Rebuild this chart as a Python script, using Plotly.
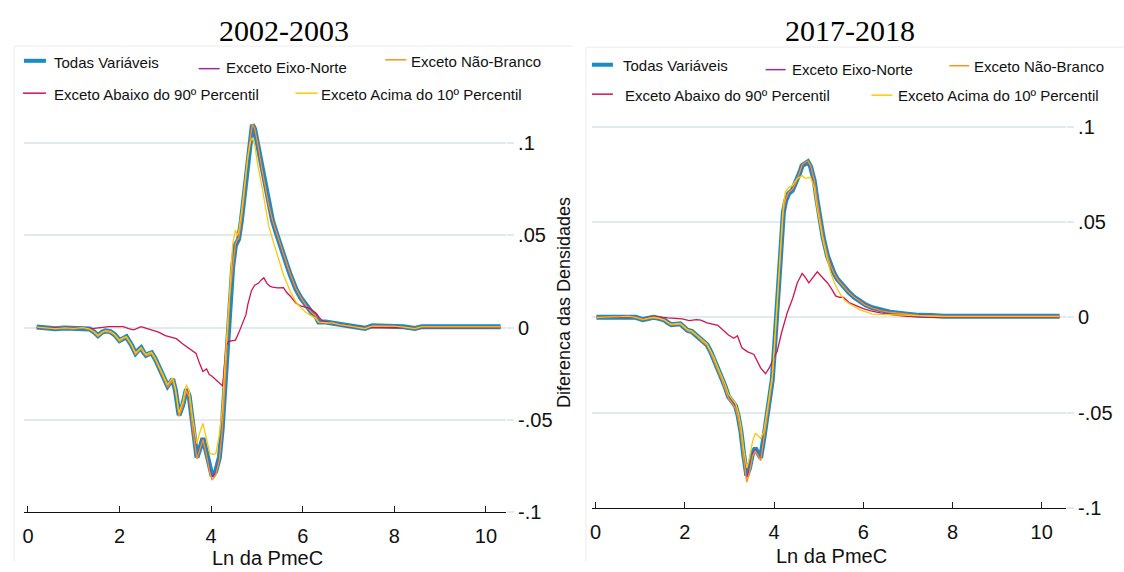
import plotly.graph_objects as go

# ---------------- data: 2002-2003 ----------------
LX = [0.19, 0.4, 0.6, 0.8, 1.0, 1.2, 1.35, 1.45, 1.53, 1.62,
      1.69, 1.8, 1.9, 2.0, 2.07, 2.15, 2.25, 2.35, 2.42, 2.47,
      2.53, 2.58, 2.64, 2.7, 2.78, 2.85, 2.95, 3.05, 3.1, 3.16,
      3.22, 3.3, 3.38, 3.46, 3.52, 3.6, 3.69, 3.75, 3.82, 3.9,
      3.97, 4.02, 4.1, 4.18, 4.24, 4.29, 4.35, 4.41, 4.47, 4.53,
      4.57, 4.6, 4.66, 4.72, 4.8, 4.86, 4.9, 4.95, 5.02, 5.11,
      5.18, 5.26, 5.34, 5.42, 5.5, 5.58, 5.66, 5.73, 5.85, 5.96,
      6.08, 6.2, 6.28, 6.35, 6.5, 6.66, 6.8, 6.9, 7.1, 7.36,
      7.52, 7.7, 7.99, 8.2, 8.45, 8.6, 9.0, 9.5, 10.0, 10.32]

L_todas = [0.0003, 0.0000, -0.0006, -0.0002, -0.0004, 0.0000, -0.0008, -0.0025, -0.0044, -0.0025,
           -0.0018, -0.0022, -0.0040, -0.0070, -0.0058, -0.0050, -0.0090, -0.0140, -0.0120, -0.0110,
           -0.0135, -0.0150, -0.0142, -0.0137, -0.0170, -0.0210, -0.0260, -0.0317, -0.0300, -0.0280,
           -0.0340, -0.0475, -0.0420, -0.0335, -0.0370, -0.0550, -0.0704, -0.0660, -0.0600, -0.0680,
           -0.0770, -0.0805, -0.0780, -0.0704, -0.0550, -0.0350, -0.0080, 0.0180, 0.0330, 0.0445,
           0.0470, 0.0480, 0.0580, 0.0712, 0.0925, 0.1050, 0.1100, 0.1077, 0.0990, 0.0854,
           0.0760, 0.0658, 0.0580, 0.0516, 0.0450, 0.0390, 0.0335, 0.0285, 0.0210, 0.0160,
           0.0115, 0.0080, 0.0065, 0.0030, 0.0030, 0.0027, 0.0018, 0.0014, 0.0005, -0.0004,
           0.0010, 0.0009, 0.0009, 0.0004, -0.0005, 0.0005, 0.0005, 0.0005, 0.0005, 0.0005]

L_eixo = [0.0002, 0.0000, -0.0005, -0.0002, -0.0004, 0.0001, -0.0008, -0.0026, -0.0045, -0.0026,
          -0.0019, -0.0023, -0.0041, -0.0072, -0.0059, -0.0051, -0.0091, -0.0142, -0.0121, -0.0111,
          -0.0137, -0.0152, -0.0143, -0.0138, -0.0172, -0.0212, -0.0262, -0.0320, -0.0302, -0.0282,
          -0.0343, -0.0478, -0.0423, -0.0337, -0.0373, -0.0553, -0.0708, -0.0662, -0.0603, -0.0684,
          -0.0775, -0.0810, -0.0786, -0.0710, -0.0556, -0.0352, -0.0082, 0.0178, 0.0328, 0.0443,
          0.0468, 0.0478, 0.0578, 0.0710, 0.0923, 0.1048, 0.1102, 0.1079, 0.0992, 0.0856,
          0.0762, 0.0660, 0.0582, 0.0518, 0.0452, 0.0392, 0.0337, 0.0287, 0.0212, 0.0161,
          0.0116, 0.0081, 0.0066, 0.0031, 0.0030, 0.0027, 0.0018, 0.0014, 0.0005, -0.0004,
          0.0009, 0.0009, 0.0008, 0.0004, -0.0005, 0.0004, 0.0004, 0.0004, 0.0004, 0.0004]

L_naobranco = [0.0001, -0.0002, -0.0007, -0.0004, -0.0006, -0.0002, -0.0010, -0.0028, -0.0047, -0.0028,
               -0.0021, -0.0025, -0.0043, -0.0074, -0.0061, -0.0053, -0.0093, -0.0145, -0.0124, -0.0114,
               -0.0139, -0.0154, -0.0146, -0.0141, -0.0174, -0.0214, -0.0265, -0.0323, -0.0305, -0.0285,
               -0.0346, -0.0482, -0.0426, -0.0340, -0.0376, -0.0557, -0.0712, -0.0666, -0.0607, -0.0690,
               -0.0785, -0.0827, -0.0800, -0.0715, -0.0560, -0.0355, -0.0085, 0.0175, 0.0328, 0.0450,
               0.0475, 0.0482, 0.0582, 0.0714, 0.0928, 0.1053, 0.1104, 0.1080, 0.0993, 0.0857,
               0.0763, 0.0661, 0.0583, 0.0519, 0.0453, 0.0393, 0.0338, 0.0288, 0.0212, 0.0162,
               0.0116, 0.0080, 0.0064, 0.0028, 0.0028, 0.0025, 0.0016, 0.0012, 0.0003, -0.0006,
               0.0008, 0.0007, 0.0007, 0.0002, -0.0007, 0.0003, 0.0003, 0.0003, 0.0003, 0.0003]

L_acima10 = [0.0002, 0.0000, -0.0006, -0.0002, -0.0004, 0.0000, -0.0008, -0.0024, -0.0042, -0.0024,
             -0.0017, -0.0021, -0.0039, -0.0068, -0.0056, -0.0049, -0.0088, -0.0137, -0.0118, -0.0108,
             -0.0132, -0.0147, -0.0139, -0.0134, -0.0166, -0.0205, -0.0254, -0.0310, -0.0292, -0.0272,
             -0.0330, -0.0462, -0.0405, -0.0310, -0.0345, -0.0500, -0.0630, -0.0570, -0.0520, -0.0600,
             -0.0680, -0.0687, -0.0685, -0.0580, -0.0450, -0.0250, 0.0000, 0.0250, 0.0450, 0.0530,
             0.0500, 0.0520, 0.0620, 0.0750, 0.0920, 0.1010, 0.1030, 0.0990, 0.0880, 0.0765,
             0.0660, 0.0550, 0.0480, 0.0410, 0.0350, 0.0285, 0.0240, 0.0196, 0.0140, 0.0107,
             0.0080, 0.0060, 0.0050, 0.0030, 0.0026, 0.0024, 0.0016, 0.0012, 0.0004, -0.0004,
             0.0008, 0.0008, 0.0008, 0.0003, -0.0004, 0.0004, 0.0004, 0.0004, 0.0004, 0.0004]

LRX = [0.19, 0.5, 0.8, 1.1, 1.4, 1.77, 2.08, 2.2, 2.31, 2.47,
       2.6, 2.7, 2.85, 3.0, 3.12, 3.24, 3.36, 3.48, 3.58, 3.67,
       3.74, 3.82, 3.9, 3.96, 4.02, 4.1, 4.18, 4.25, 4.29, 4.33,
       4.38, 4.45, 4.53, 4.6, 4.68, 4.76, 4.8, 4.88, 4.95, 5.03,
       5.1, 5.15, 5.22, 5.28, 5.34, 5.45, 5.58, 5.65, 5.73, 5.85,
       5.95, 6.05, 6.12, 6.2, 6.28, 6.36, 6.43, 6.6, 6.8, 7.0,
       7.4, 8.0, 9.0, 10.32]
L_abaixo90 = [0.0, -0.0003, -0.0002, 0.0, -0.0006, 0.0005, 0.0005, -0.0005, -0.0012, 0.0005,
              -0.0005, -0.0012, -0.0025, -0.0044, -0.0050, -0.0060, -0.0085, -0.0106, -0.0125, -0.0140,
              -0.0190, -0.0238, -0.0225, -0.0255, -0.0264, -0.0280, -0.0300, -0.0317, -0.0190, -0.0100,
              -0.0075, -0.0070, -0.0068, -0.0030, 0.0020, 0.0070, 0.0125, 0.0200, 0.0230, 0.0240,
              0.0260, 0.0270, 0.0240, 0.0225, 0.0220, 0.0215, 0.0217, 0.0190, 0.0170, 0.0133,
              0.0118, 0.0110, 0.0107, 0.0095, 0.0080, 0.0055, 0.0036, 0.0025, 0.0015, 0.0005,
              0.0, 0.0, 0.0, 0.0]

# ---------------- data: 2017-2018 ----------------
RX = [0.02, 0.3, 0.58, 0.74, 0.9, 1.06, 1.2, 1.3, 1.42, 1.54,
      1.62, 1.7, 1.8, 1.9, 2.0, 2.06, 2.16, 2.26, 2.38, 2.5,
      2.58, 2.66, 2.74, 2.82, 2.9, 2.98, 3.06, 3.14, 3.2, 3.26,
      3.32, 3.39, 3.45, 3.52, 3.58, 3.64, 3.7, 3.77, 3.84, 3.9,
      3.96, 4.0, 4.06, 4.12, 4.17, 4.21, 4.26, 4.33, 4.41, 4.52,
      4.58, 4.63, 4.69, 4.76, 4.82, 4.9, 4.96, 5.01, 5.1, 5.2,
      5.27, 5.34, 5.42, 5.49, 5.58, 5.68, 5.8, 5.94, 6.05, 6.2,
      6.39, 6.6, 6.84, 7.05, 7.25, 7.53, 7.8, 8.5, 9.5, 10.4]

R_todas = [0.0000, 0.0000, 0.0003, 0.0005, 0.0000, -0.0012, -0.0004, 0.0000, -0.0006, -0.0014,
           -0.0028, -0.0039, -0.0036, -0.0034, -0.0055, -0.0068, -0.0075, -0.0093, -0.0120, -0.0144,
           -0.0180, -0.0220, -0.0270, -0.0314, -0.0360, -0.0415, -0.0440, -0.0466, -0.0520, -0.0600,
           -0.0720, -0.0830, -0.0790, -0.0710, -0.0686, -0.0710, -0.0737, -0.0636, -0.0520, -0.0420,
           -0.0330, -0.0200, 0.0000, 0.0230, 0.0420, 0.0550, 0.0610, 0.0650, 0.0665, 0.0717,
           0.0760, 0.0795, 0.0805, 0.0815, 0.0790, 0.0717, 0.0620, 0.0540, 0.0420, 0.0320,
           0.0270, 0.0233, 0.0200, 0.0180, 0.0155, 0.0130, 0.0105, 0.0080, 0.0065, 0.0050,
           0.0036, 0.0027, 0.0020, 0.0013, 0.0010, 0.0009, 0.0005, 0.0005, 0.0005, 0.0005]

R_eixo = [0.0000, 0.0000, 0.0003, 0.0005, 0.0000, -0.0012, -0.0004, 0.0000, -0.0006, -0.0014,
          -0.0028, -0.0040, -0.0037, -0.0035, -0.0056, -0.0069, -0.0076, -0.0094, -0.0122, -0.0146,
          -0.0183, -0.0223, -0.0273, -0.0317, -0.0364, -0.0419, -0.0444, -0.0470, -0.0525, -0.0606,
          -0.0727, -0.0840, -0.0798, -0.0716, -0.0692, -0.0716, -0.0745, -0.0642, -0.0525, -0.0424,
          -0.0332, -0.0201, 0.0000, 0.0232, 0.0423, 0.0553, 0.0613, 0.0653, 0.0668, 0.0720,
          0.0763, 0.0798, 0.0808, 0.0818, 0.0792, 0.0719, 0.0622, 0.0542, 0.0421, 0.0321,
          0.0271, 0.0234, 0.0201, 0.0181, 0.0156, 0.0131, 0.0106, 0.0081, 0.0066, 0.0050,
          0.0036, 0.0027, 0.0020, 0.0013, 0.0010, 0.0009, 0.0005, 0.0005, 0.0005, 0.0005]

R_naobranco = [-0.0001, -0.0001, 0.0002, 0.0004, -0.0001, -0.0013, -0.0005, -0.0001, -0.0007, -0.0015,
               -0.0029, -0.0041, -0.0038, -0.0036, -0.0057, -0.0070, -0.0078, -0.0096, -0.0124, -0.0148,
               -0.0185, -0.0226, -0.0276, -0.0321, -0.0368, -0.0424, -0.0450, -0.0477, -0.0534, -0.0617,
               -0.0740, -0.0864, -0.0815, -0.0728, -0.0700, -0.0722, -0.0752, -0.0648, -0.0530, -0.0428,
               -0.0335, -0.0202, 0.0002, 0.0236, 0.0428, 0.0558, 0.0617, 0.0656, 0.0670, 0.0722,
               0.0764, 0.0799, 0.0810, 0.0820, 0.0794, 0.0720, 0.0623, 0.0542, 0.0421, 0.0320,
               0.0270, 0.0233, 0.0200, 0.0180, 0.0155, 0.0130, 0.0105, 0.0080, 0.0064, 0.0049,
               0.0035, 0.0026, 0.0019, 0.0012, 0.0009, 0.0008, 0.0004, 0.0004, 0.0004, 0.0004]

R_acima10 = [0.0000, 0.0000, 0.0003, 0.0005, 0.0000, -0.0011, -0.0004, 0.0000, -0.0005, -0.0013,
             -0.0026, -0.0037, -0.0034, -0.0032, -0.0052, -0.0065, -0.0072, -0.0090, -0.0116, -0.0140,
             -0.0175, -0.0214, -0.0262, -0.0305, -0.0350, -0.0403, -0.0428, -0.0452, -0.0500, -0.0575,
             -0.0690, -0.0790, -0.0740, -0.0650, -0.0610, -0.0620, -0.0636, -0.0600, -0.0500, -0.0400,
             -0.0310, -0.0180, 0.0020, 0.0260, 0.0450, 0.0590, 0.0660, 0.0680, 0.0690, 0.0727,
             0.0735, 0.0743, 0.0730, 0.0730, 0.0735, 0.0680, 0.0580, 0.0510, 0.0400, 0.0300,
             0.0233, 0.0190, 0.0147, 0.0120, 0.0090, 0.0072, 0.0055, 0.0038, 0.0030, 0.0017,
             0.0015, 0.0013, 0.0011, 0.0009, 0.0008, 0.0007, 0.0004, 0.0004, 0.0004, 0.0004]

RRX = [0.02, 0.3, 0.6, 0.9, 1.06, 1.3, 1.62, 1.94, 2.1, 2.26,
       2.36, 2.5, 2.74, 2.98, 3.1, 3.18, 3.28, 3.4, 3.55, 3.7,
       3.81, 3.9, 4.0, 4.07, 4.17, 4.3, 4.42, 4.52, 4.63, 4.7,
       4.78, 4.88, 4.97, 5.08, 5.2, 5.3, 5.38, 5.47, 5.56, 5.68,
       5.86, 6.0, 6.17, 6.41, 6.7, 7.0, 7.5, 8.5, 9.5, 10.4]
R_abaixo90 = [0.0, 0.0, 0.0002, 0.0, -0.0010, 0.0005, -0.0003, -0.0008, -0.0017, -0.0012,
              -0.0015, -0.0029, -0.0042, -0.0093, -0.0110, -0.0097, -0.0160, -0.0180, -0.0195, -0.0265,
              -0.0296, -0.0263, -0.0210, -0.0180, -0.0080, 0.0026, 0.0100, 0.0180, 0.0230, 0.0210,
              0.0180, 0.0210, 0.0238, 0.0210, 0.0180, 0.0145, 0.0112, 0.0105, 0.0104, 0.0077,
              0.0060, 0.0045, 0.0034, 0.0022, 0.0012, 0.0005, 0.0, 0.0, 0.0, 0.0]

PANEL_TITLES = ["2002-2003", "2017-2018"]
SERIES_NAMES = ["Todas Variáveis", "Exceto Eixo-Norte", "Exceto Não-Branco",
                "Exceto Abaixo do 90º Percentil", "Exceto Acima do 10º Percentil"]
Y_TICKS = [-0.1, -0.05, 0, 0.05, 0.1]
Y_TICK_TEXT = ["-.1", "-.05", "0", ".05", ".1"]
X_TICKS = [0, 2, 4, 6, 8, 10]
X_TITLE = "Ln da PmeC"
Y_TITLE = "Diferenca das Densidades"

# ---------------- styling ----------------
W, H = 1124, 572
BLUE = "#1a8bc4"
PURPLE = "#9c2aa0"
ORANGE = "#f7931e"
RED = "#d1134f"
YELLOW = "#ffc60a"
GRID = "#e3eaef"
FRAME = "#ececec"
SANS = "Liberation Sans, Arial, sans-serif"
SERIF = "Liberation Serif, Times New Roman, serif"
COLORS = [BLUE, PURPLE, ORANGE, RED, YELLOW]
WIDTHS = [5, 1.4, 1.4, 1.3, 1.3]


def fx(p):
    return p / W


def fy(p):
    return 1 - p / H


fig = go.Figure()

panels = [
    dict(xa="x", ya="y", series=[(LX, L_todas), (LX, L_eixo), (LX, L_naobranco),
                                  (LRX, L_abaixo90), (LX, L_acima10)]),
    dict(xa="x2", ya="y2", series=[(RX, R_todas), (RX, R_eixo), (RX, R_naobranco),
                                    (RRX, R_abaixo90), (RX, R_acima10)]),
]
for p in panels:
    for (xs, ys), name, col, w in zip(p["series"], SERIES_NAMES, COLORS, WIDTHS):
        fig.add_trace(go.Scatter(x=xs, y=ys, mode="lines", name=name,
                                 line=dict(color=col, width=w),
                                 xaxis=p["xa"], yaxis=p["ya"], showlegend=False,
                                 hoverinfo="skip"))

xcommon = dict(tickvals=X_TICKS, ticks="inside", ticklen=6, tickwidth=1, tickcolor="#222",
               showline=True, linecolor="#111", linewidth=1.3, showgrid=False, zeroline=False,
               tickfont=dict(family=SANS, size=20, color="#111"), ticklabelstandoff=6)
ycommon = dict(tickvals=Y_TICKS, ticktext=Y_TICK_TEXT, side="right", showgrid=True,
               gridcolor=GRID, gridwidth=1.5, ticks="outside", ticklen=7, tickcolor=GRID,
               tickwidth=1.5, zeroline=False, showline=False,
               tickfont=dict(family=SANS, size=20, color="#111"))

fig.update_layout(
    width=W, height=H, margin=dict(l=0, r=0, t=0, b=0),
    paper_bgcolor="white", plot_bgcolor="white",
    xaxis=dict(domain=[fx(22), fx(505)], range=[-0.087, 10.44], anchor="y", **xcommon),
    yaxis=dict(domain=[fy(522), fy(115)], range=[-0.1, 0.1165], anchor="x", **ycommon),
    xaxis2=dict(domain=[fx(591), fx(1066)], range=[-0.08, 10.546], anchor="y2", **xcommon),
    yaxis2=dict(domain=[fy(518), fy(115)], range=[-0.1, 0.1072], anchor="x2", **ycommon),
)

ann = []
shapes = []

# panel titles
for title, cx in zip(PANEL_TITLES, [283, 850]):
    ann.append(dict(x=fx(cx), y=fy(31), xref="paper", yref="paper", text=title,
                    showarrow=False, xanchor="center", yanchor="middle",
                    font=dict(family=SERIF, size=30, color="#000")))

# x axis titles (baseline sits at the bottom edge)
for cx, cy in [(266, 569), (831, 567)]:
    ann.append(dict(x=fx(cx), y=fy(cy), xref="paper", yref="paper", text=X_TITLE,
                    showarrow=False, xanchor="center", yanchor="middle",
                    font=dict(family=SANS, size=20, color="#111")))

# y axis title (first panel)
ann.append(dict(x=fx(563), y=fy(308), xref="paper", yref="paper", text=Y_TITLE,
                showarrow=False, textangle=-90, xanchor="center", yanchor="middle",
                font=dict(family=SANS, size=18, color="#111")))

# graph region frames
for (x0, y0) in [(12, 47), (585, 48)]:
    shapes.append(dict(type="line", xref="paper", yref="paper", x0=fx(x0), x1=fx(x0),
                       y0=fy(y0), y1=0, line=dict(color=FRAME, width=1)))
shapes.append(dict(type="line", xref="paper", yref="paper", x0=fx(12), x1=fx(572),
                   y0=fy(47), y1=fy(47), line=dict(color=FRAME, width=1)))
shapes.append(dict(type="line", xref="paper", yref="paper", x0=fx(585), x1=1,
                   y0=fy(48), y1=fy(48), line=dict(color=FRAME, width=1)))

# legends: (line x0, line x1, line y, text x, text y) per series
legend_layout = [
    [(22, 44, 62, 50, 64), (197, 218, 70, 222, 69), (384, 405, 61, 408, 63),
     (21, 44, 95, 50, 96), (294, 316, 95, 318, 96)],
    [(591, 612, 66, 620, 67), (765, 785, 71, 789, 71), (949, 969, 67, 972, 68),
     (591, 612, 96, 622, 97), (871, 892, 97, 896, 97)],
]
for entries in legend_layout:
    for (lx0, lx1, ly, tx, ty), name, col, w in zip(entries, SERIES_NAMES, COLORS, WIDTHS):
        shapes.append(dict(type="line", xref="paper", yref="paper", x0=fx(lx0), x1=fx(lx1),
                           y0=fy(ly), y1=fy(ly),
                           line=dict(color=col, width=4 if w > 3 else 1.5)))
        ann.append(dict(x=fx(tx), y=fy(ty), xref="paper", yref="paper", text=name,
                        showarrow=False, xanchor="left", yanchor="middle",
                        font=dict(family=SANS, size=15, color="#111")))

fig.update_layout(annotations=ann, shapes=shapes)
fig.write_html("out.html")
